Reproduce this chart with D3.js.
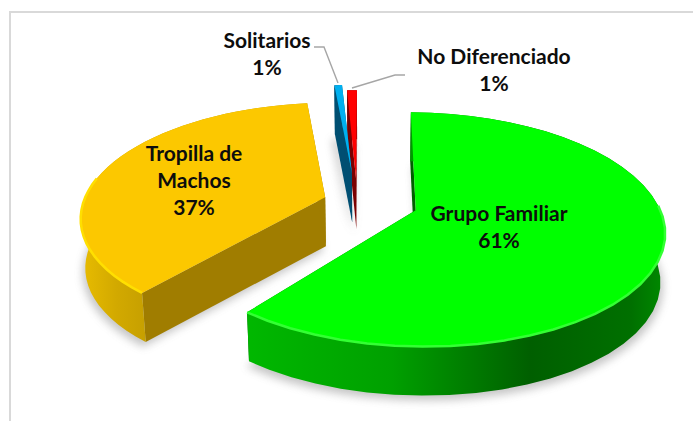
<!DOCTYPE html>
<html>
<head>
<meta charset="utf-8">
<script src="https://cdn.jsdelivr.net/npm/d3@7"></script>
<style>
html,body{margin:0;padding:0;background:#fff;overflow:hidden}
text{font-family:Lato,"Open Sans",sans-serif;font-weight:700;fill:#0d0d0d;text-anchor:middle}
</style>
</head>
<body>
<script>
let width = 693, height = 421;

// values
let categories = ["Grupo Familiar","Tropilla de Machos","Solitarios","No Diferenciado"];
let shares = [60.6,37.4,1,1];
let shareLabels = ["61%","37%","1%","1%"];

// how far each slice is pulled out of the pie
let explode = [0.19,0.19,0.28,0.21];
let nudge = [0.012,0,-0.05,-0.05];
// degrees shaved off the start and end of each slice
let trimStart = [0,1.5,1,0];
let trimEnd = [0,0,0.4,0.8];

let topColors = ["#00ff00","#fcc800","#00b0f0","#ff0000"];
let wallColors = ["#005f00","#a07d00","#004f72","#7a0000"];
let rimColors = ["#33ff33","#ffdf00","#00b0f0","#ff0000"];
let sideStops = [
	[[0,"#00b800"],[0.35,"#00a000"],[0.68,"#005f00"],[0.92,"#007000"],[1,"#008a00"]],
	[[0,"#e8bc00"],[0.5,"#d2a900"],[1,"#c49e00"]],
	[[0,"#004f72"],[1,"#004f72"]],
	[[0,"#7a0000"],[1,"#7a0000"]]
];

let cx = 369, cy = 203, R = 242, A = 111.6, ky = 0.163, kx = 0.165, D = 49, squeeze = 0.016;

var svg = d3.select("body")
.append("svg")
.attr("width",width)
.attr("height",height)
.style("display","block");

let defs = svg.append("defs");
defs.append("filter").attr("id","soft")
.attr("x","-20%").attr("y","-20%").attr("width","140%").attr("height","140%")
.append("feGaussianBlur").attr("stdDeviation",4);

// chart frame
svg.append("path")
.attr("d","M10 421V12H693")
.attr("fill","none")
.attr("stroke","#d9d9d9")
.attr("stroke-width",2);

// ground plane to screen, u to the right, v towards the viewer, z downwards
function project(u,v,z) {
	return [cx+R*u/(1-kx*v)*(1-squeeze*z), cy+A*v/(1-ky*v)+D*z];
}

let rad = Math.PI/180;
let pie = d3.pie().sort(null)
.startAngle(0.5*rad)
.endAngle(360.5*rad);

let arcs = pie(shares).map((d,i)=>{
	let mid = (d.startAngle+d.endAngle)/2;
	let ou = explode[i]*Math.sin(mid)+nudge[i], ov = -explode[i]*Math.cos(mid);
	let a0 = d.startAngle+trimStart[i]*rad, a1 = d.endAngle-trimEnd[i]*rad;
	let steps = d3.range(0,41).map(j=>a0+(a1-a0)*j/40);
	return {i:i,
		rim:steps.map(a=>[ou+Math.sin(a),ov-Math.cos(a)]),
		apex:[ou,ov]};
});

function pts(list,z) { return list.map(p=>project(p[0],p[1],z)); }
let line = d3.line();

let painted = [arcs[1],arcs[3],arcs[2],arcs[0]];

// soft shadow on the floor
svg.append("g").attr("filter","url(#soft)").attr("opacity",0.42)
.selectAll("path").data(painted).enter().append("path")
.attr("fill","#777")
.attr("d",a=>line(pts([a.apex].concat(a.rim),1.1).map(p=>[p[0]+ (p[0]>cx?3:-3),p[1]])));

let g = svg.append("g").selectAll("g").data(painted).enter().append("g");

g.each(function(a) {
	let el = d3.select(this), i = a.i;
	let botRim = pts(a.rim,1), topRim = pts(a.rim,0);
	let apexT = project(a.apex[0],a.apex[1],0), apexB = project(a.apex[0],a.apex[1],1);

	// radial walls
	el.append("path").attr("fill",wallColors[i])
	.attr("d",line([topRim[0],apexT,apexB,botRim[0]])+"Z");
	el.append("path").attr("fill",wallColors[i])
	.attr("d",line([topRim[40],apexT,apexB,botRim[40]])+"Z");

	// outer curved side
	let ext = d3.extent(topRim,p=>p[0]);
	let gid = "side"+i;
	let grad = defs.append("linearGradient").attr("id",gid)
	.attr("gradientUnits","userSpaceOnUse")
	.attr("x1",i==0?245:ext[0]).attr("x2",ext[1]).attr("y1",0).attr("y2",0);
	if (i==1) grad.attr("x1",81).attr("x2",152);
	sideStops[i].forEach(s=>grad.append("stop").attr("offset",s[0]).attr("stop-color",s[1]));
	el.append("path").attr("fill","url(#"+gid+")")
	.attr("d",line(topRim.concat(botRim.slice().reverse()))+"Z");

	// top face with a small bevel on the rim
	el.append("path").attr("fill",topColors[i]).attr("d",line([apexT].concat(topRim))+"Z");
	if (i<2) {
		let front = topRim.filter((p,j)=>a.rim[j][1]>(i==0?0.02:-0.25));
		el.append("path").attr("fill","none").attr("stroke",rimColors[i])
		.attr("stroke-width",2.5).attr("d",line(front));
	}
});

// leader lines
let leaderXs = [[314,324,338],[405,395,352]];
let leaderYs = [[47,47,83],[75,75,88]];
svg.append("g").attr("fill","none").attr("stroke","#a6a6a6").attr("stroke-width",1.4)
.selectAll("path").data(leaderXs).enter().append("path")
.attr("d",(d,i)=>line(d3.zip(d,leaderYs[i])));

// labels
let labelLines = [
	["Grupo Familiar",shareLabels[0]],
	["Tropilla de","Machos",shareLabels[1]],
	["Solitarios",shareLabels[2]],
	["No Diferenciado",shareLabels[3]]
];
let labelX = [499,194,267,494];
let labelY = [221,161,48,64];

let labels = svg.append("g").selectAll("text").data(labelLines).enter().append("text")
.attr("font-size",21)
.attr("aria-label",(d,i)=>categories[i]);
labels.selectAll("tspan").data((d,i)=>d.map((t,j)=>({t:t,j:j,i:i}))).enter().append("tspan")
.attr("x",d=>labelX[d.i])
.attr("y",d=>labelY[d.i]+d.j*27)
.text(d=>d.t);
</script>
</body>
</html>
